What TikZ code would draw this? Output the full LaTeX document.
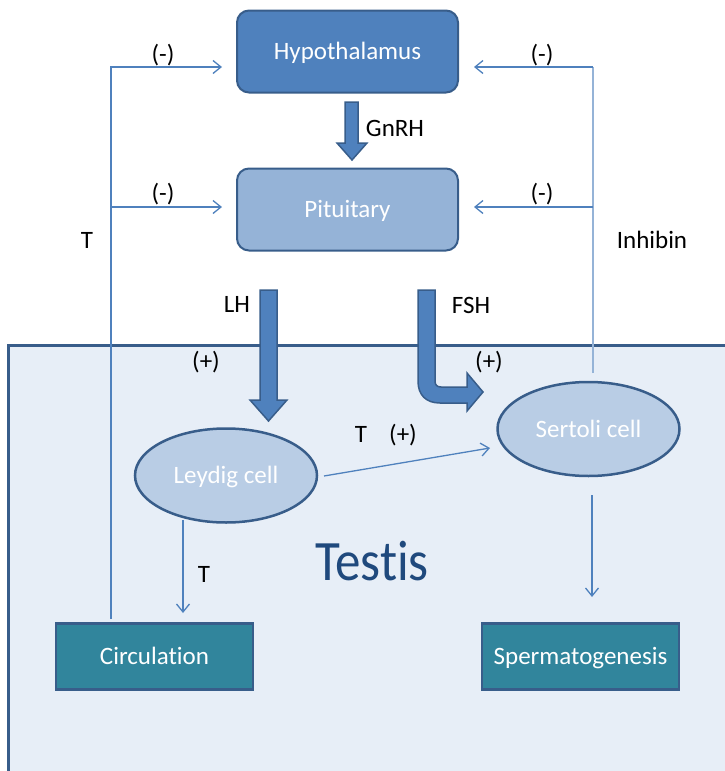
\documentclass[tikz,border=0pt]{standalone}
\usepackage{fontspec}
\setmainfont{Carlito}[Ligatures=NoCommon]
\usetikzlibrary{arrows.meta,shapes.geometric}
\definecolor{boxblue}{HTML}{4F81BD}
\definecolor{edgeblue}{HTML}{385D8A}
\definecolor{pitblue}{HTML}{95B3D7}
\definecolor{cellblue}{HTML}{B9CDE5}
\definecolor{testisbg}{HTML}{E7EEF7}
\definecolor{tealbox}{HTML}{31859C}
\definecolor{lightline}{HTML}{95B3D7}
\definecolor{testistext}{HTML}{1F497D}
\begin{document}
\begin{tikzpicture}[x=1pt,y=-1pt,
 txt/.style={font=\fontsize{25}{30}\selectfont,text height=16pt,text depth=0pt},
 organ/.style={txt,draw=edgeblue,line width=2pt,rounded corners=12pt,minimum width=221pt,minimum height=82pt,text=white},
 cell/.style={txt,ellipse,draw=edgeblue,line width=2.5pt,fill=cellblue,minimum width=182pt,minimum height=94pt,inner sep=0pt,text=white},
 outbox/.style={txt,draw=edgeblue,line width=2.5pt,fill=tealbox,minimum width=197pt,minimum height=66pt,text=white},
 lbl/.style={txt,text=black,inner sep=0pt},
 thinline/.style={draw=boxblue,line width=1.3pt},
 tipped/.style={-{Straight Barb[length=8pt,width=13pt]}},
 blockarrow/.style={fill=boxblue,draw=edgeblue,line width=1.5pt,line join=miter}]
\useasboundingbox (0,0) rectangle (725,771);
% testis background
\begin{scope}
\clip (0,0) rectangle (725,771);
\draw[draw=edgeblue,line width=3pt,fill=testisbg] (8.5,345.5) rectangle (745,795);
\end{scope}
% nodes
\node[organ,fill=boxblue] (hyp) at (347.5,51.5) {Hypothalamus};
\node[organ,fill=pitblue] (pit) at (347.5,209.5) {Pituitary};
\node[cell] (ley) at (226,475.5) {Leydig cell};
\node[cell] (ser) at (588.5,429) {Sertoli cell};
\node[outbox] (circ) at (154.5,656.5) {Circulation};
\node[outbox] (sperm) at (580.5,656.5) {Spermatogenesis};
\node[text=testistext,font=\fontsize{51}{55}\selectfont,inner sep=0pt] (testis) at (372,561) {\scalebox{1}[1.12]{Testis}};
% block arrows
\draw[blockarrow] (345,102) -- (358,102) -- (358,143) -- (367,143) -- (352,160) -- (337,143) -- (345,143) -- cycle;
\draw[blockarrow] (260,290) -- (277,290) -- (277,400) -- (287,400) -- (268.5,421) -- (250,400) -- (260,400) -- cycle;
\draw[blockarrow] (418,290) -- (418,381) .. controls (418,395) and (426,403) .. (440,403) -- (467,403) -- (467,411) -- (483,392) -- (467,373) -- (467,387) -- (441,387) .. controls (437,387) and (435,385) .. (435,381) -- (435,290) -- cycle;
% coordinates for thin connectors
\coordinate (lbot) at (111,619);
\coordinate (lmid) at (111,207);
\coordinate (hypL) at (222,67);
\coordinate (pitL) at (222,207);
\coordinate (rbot) at (593,373);
\coordinate (rtop) at (593,67);
\coordinate (rmid) at (593,207);
\coordinate (hypR) at (474,67);
\coordinate (pitR) at (474,207);
\coordinate (lsTip) at (490,448);
\coordinate (leyOut) at (324,476);
\coordinate (leyDownA) at (183,520);
\coordinate (leyDownB) at (183,613);
\coordinate (serDownA) at (592,495);
\coordinate (serDownB) at (592,597);
% thin connectors
\draw[thinline,tipped] (lbot) |- (hypL);
\draw[thinline,tipped] (lmid) -- (pitL);
\draw[draw=lightline,line width=1.6pt] (rbot) -- (rtop);
\draw[thinline,tipped] (rtop) -- (hypR);
\draw[thinline,tipped] (rmid) -- (pitR);
\draw[thinline,tipped] (leyOut) -- (lsTip);
\draw[thinline,tipped] (leyDownA) -- (leyDownB);
\draw[thinline,tipped] (serDownA) -- (serDownB);
% labels
\node[lbl] (m1) at (163,54) {(-)};
\node[lbl] (m2) at (163,193) {(-)};
\node[lbl] (m3) at (542,54) {(-)};
\node[lbl] (m4) at (542,193) {(-)};
\node[lbl] (tleft) at (87,240) {T};
\node[lbl] (inh) at (652,240) {Inhibin};
\node[lbl] (gnrh) at (395,128) {GnRH};
\node[lbl] (lh) at (237,304) {LH};
\node[lbl] (fsh) at (471,305) {FSH};
\node[lbl] (p1) at (206,361) {(+)};
\node[lbl] (p2) at (489,361) {(+)};
\node[lbl] (tmid) at (361,434) {T};
\node[lbl] (p3) at (403,434) {(+)};
\node[lbl] (tlow) at (204,574) {T};
\end{tikzpicture}
\end{document}
